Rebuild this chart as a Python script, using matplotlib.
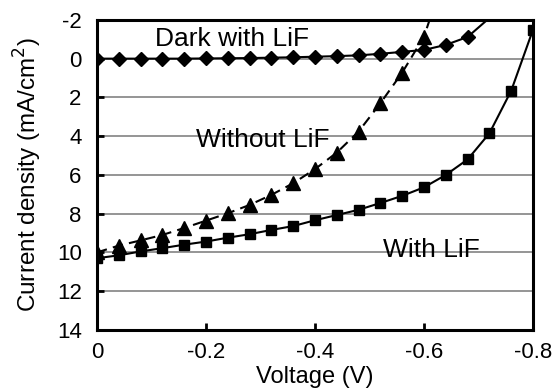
#!/usr/bin/env python3
# J-V curves with and without LiF, plus dark curve.

import matplotlib
matplotlib.use("Agg")
import matplotlib.pyplot as plt
import numpy as np

plt.rcParams['font.family'] = ['Liberation Sans', 'DejaVu Sans']
plt.rcParams['axes.unicode_minus'] = False

# Voltage (V), 0.04 V steps
v_with = [0.00, -0.04, -0.08, -0.12, -0.16, -0.20, -0.24, -0.28, -0.32, -0.36, -0.40,
          -0.44, -0.48, -0.52, -0.56, -0.60, -0.64, -0.68, -0.72, -0.76, -0.80]
j_with = [10.3, 10.15, 9.95, 9.78, 9.6, 9.44, 9.24, 9.06, 8.84, 8.64, 8.34,
          8.07, 7.8, 7.45, 7.08, 6.64, 6.0, 5.2, 3.85, 1.65, -1.5]

v_without = [0.00, -0.04, -0.08, -0.12, -0.16, -0.20, -0.24, -0.28, -0.32, -0.36, -0.40,
             -0.44, -0.48, -0.52, -0.56, -0.60, -0.64]
j_without = [10.0, 9.65, 9.38, 9.1, 8.74, 8.36, 7.98, 7.55, 7.03, 6.43, 5.7,
             4.85, 3.76, 2.3, 0.72, -1.14, -4.5]

v_dark = [0.00, -0.04, -0.08, -0.12, -0.16, -0.20, -0.24, -0.28, -0.32, -0.36, -0.40,
          -0.44, -0.48, -0.52, -0.56, -0.60, -0.64, -0.68, -0.72]
j_dark = [0.0, 0.0, 0.0, 0.0, 0.0, -0.01, -0.02, -0.03, -0.05, -0.07, -0.1,
          -0.13, -0.17, -0.25, -0.35, -0.45, -0.71, -1.12, -2.1]

xticks = [0, -0.2, -0.4, -0.6, -0.8]
xticklabels = ['0', '-0.2', '-0.4', '-0.6', '-0.8']
yticks = [-2, 0, 2, 4, 6, 8, 10, 12, 14]

fig = plt.figure(figsize=(5.57, 3.90), dpi=100)
ax = fig.add_axes([0.174, 0.154, 0.783, 0.795])

ax.plot(v_dark, j_dark, '-', color='black', lw=1.5, marker='D', ms=7.5,
        markevery=list(range(len(v_dark) - 1)), zorder=3)
ax.plot(v_without, j_without, '--', color='black', lw=1.5, dashes=(5, 3), marker='^', ms=9.5,
        markevery=list(range(len(v_without) - 1)), zorder=3)
ax.plot(v_with, j_with, '-', color='black', lw=1.5, marker='s', ms=7.5, zorder=3)

ax.set_xlim(0, -0.8)
ax.set_ylim(14, -2)
ax.set_xticks(xticks)
ax.set_xticklabels(xticklabels)
ax.set_yticks(yticks)
ax.grid(axis='y', color='#8c8c8c', lw=1.3)
ax.set_axisbelow(True)

for s in ax.spines.values():
    s.set_linewidth(2.2)
ax.tick_params(direction='in', width=2, length=5, labelsize=16)
ax.tick_params(axis='x', pad=9)
ax.tick_params(axis='y', pad=11)

ax.set_xlabel('Voltage (V)', fontsize=17, labelpad=2)
ax.set_ylabel('Current density (mA/cm$^2$)', fontsize=17.5, labelpad=9)

ax.text(-0.248, -0.66, 'Dark with LiF', fontsize=19, ha='center', va='baseline')
ax.text(-0.304, 4.54, 'Without LiF', fontsize=19, ha='center', va='baseline')
ax.text(-0.613, 10.22, 'With LiF', fontsize=19, ha='center', va='baseline')

fig.savefig('out.png', dpi=100)
